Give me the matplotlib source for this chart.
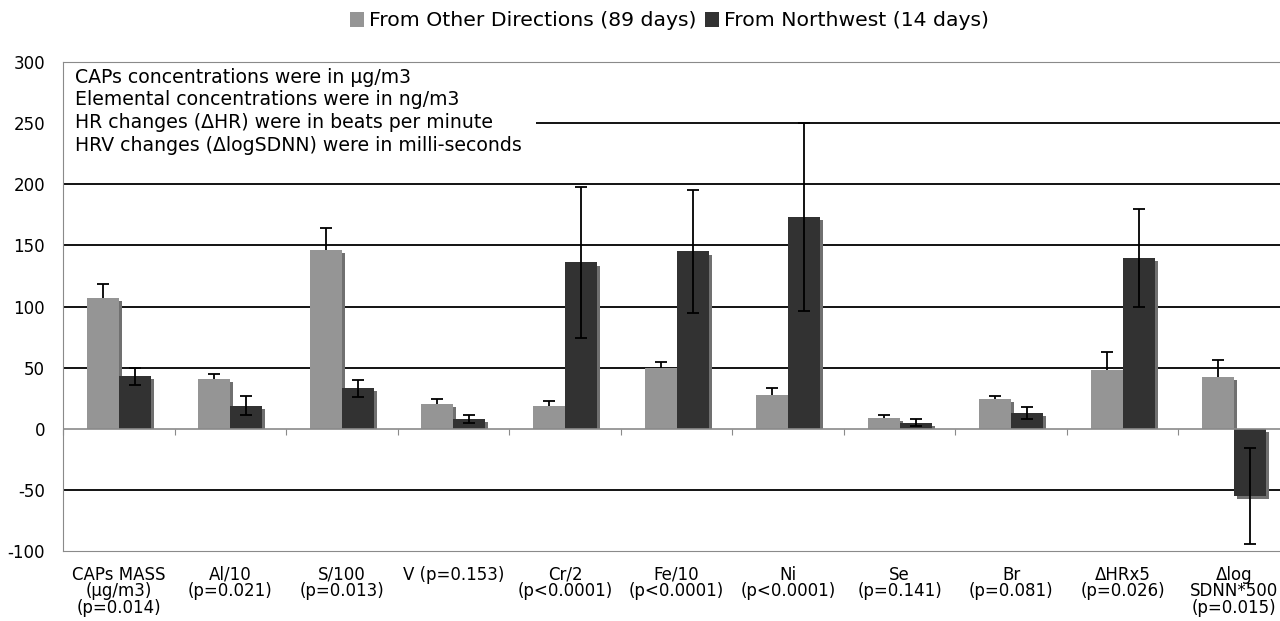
import matplotlib.pyplot as plt
from matplotlib.patches import Patch
import numpy as np

plt.rcParams['axes.unicode_minus'] = False

# values
categories = ['CAPs MASS\n(µg/m3)\n(p=0.014)', 'Al/10\n(p=0.021)', 'S/100\n(p=0.013)',
              'V (p=0.153)', 'Cr/2\n(p<0.0001)', 'Fe/10\n(p<0.0001)', 'Ni\n(p<0.0001)',
              'Se\n(p=0.141)', 'Br\n(p=0.081)', 'ΔHRx5\n(p=0.026)', 'Δlog\nSDNN*500\n(p=0.015)']
other_mean = [107, 41, 146, 20, 19, 50, 28, 9, 24, 48, 42]
other_err = [11, 4, 18, 4, 4, 5, 5, 2, 3, 15, 14]
nw_mean = [43, 19, 33, 8, 136, 145, 173, 5, 13, 140, -55]
nw_err = [7, 8, 7, 3, 62, 50, 77, 3, 5, 40, 39]

legend_labels = ['From Other Directions (89 days)', 'From Northwest (14 days)']
note_lines = ['CAPs concentrations were in µg/m3',
              'Elemental concentrations were in ng/m3',
              'HR changes (ΔHR) were in beats per minute',
              'HRV changes (ΔlogSDNN) were in milli-seconds']

light = '#959595'
dark = '#323232'
shade = '#707070'
edge = '#8a8a8a'

fig = plt.figure(figsize=(12.8, 6.21), dpi=100)
ax = fig.add_axes([63 / 1280, 1 - 551 / 621, 1 - 63 / 1280, (551 - 62) / 621])

x = np.arange(len(categories))
w = 0.287
dx, dy = 0.027, 2.5   # drop shadow offset (about 3 px)


def shadowed_bars(xpos, vals, color):
    vals = np.asarray(vals, dtype=float)
    base = np.where(vals < 0, -dy, 0)
    top = vals - dy
    ax.bar(xpos + dx, top - base, w, bottom=base, color=shade, zorder=2.8)
    return ax.bar(xpos, vals, w, color=color, zorder=3)


b1 = shadowed_bars(x - w / 2, other_mean, light)
b2 = shadowed_bars(x + w / 2, nw_mean, dark)

eb1 = ax.errorbar(x - w / 2, other_mean, yerr=[np.zeros(len(other_err)), other_err], fmt='none',
                  ecolor='black', elinewidth=1.3, capsize=4.5, capthick=1.3, zorder=4)
eb1[1][0].set_visible(False)
ax.errorbar(x + w / 2, nw_mean, yerr=nw_err, fmt='none',
            ecolor='black', elinewidth=1.3, capsize=4.5, capthick=1.3, zorder=4)

ax.set_ylim(-100, 300)
ax.set_xlim(-0.5, 10.41)
ax.set_yticks(np.arange(-100, 301, 50))
ax.tick_params(axis='y', length=0, labelsize=12, pad=13)
ax.set_xticks(x)
ax.set_xticklabels(categories, fontsize=12, linespacing=0.89, va='top')
ax.tick_params(axis='x', length=0, pad=10.5)

for yv in [-50, 50, 100, 150, 200, 250]:
    ax.axhline(yv, color='black', lw=1.3, zorder=1)
ax.axhline(0, color=edge, lw=1.2, zorder=3.5)

# tick marks on the zero line at category boundaries
zero_axis = ax.secondary_xaxis(0.25)
zero_axis.set_xticks(np.arange(-0.5, len(categories), 1))
zero_axis.tick_params(axis='x', direction='out', length=4, color=edge, labelbottom=False)
zero_axis.spines['bottom'].set_visible(False)

for s in ['left', 'bottom', 'top']:
    ax.spines[s].set_color(edge)
    ax.spines[s].set_zorder(6)
ax.spines['right'].set_visible(False)

ax.text(0.0099, 0.988, '\n'.join(note_lines), transform=ax.transAxes, fontsize=13.6,
        va='top', ha='left', linespacing=1.24, zorder=5,
        bbox=dict(facecolor='white', edgecolor='none', pad=10))

handles = [Patch(facecolor=light), Patch(facecolor=dark)]
fig.legend(handles=handles, labels=legend_labels, loc='center', bbox_to_anchor=(0.523, 1 - 21 / 621),
           ncol=2, frameon=False, fontsize=14.7, handlelength=0.7, handleheight=0.7,
           handletextpad=0.25, columnspacing=0.4)

fig.savefig('out.png', dpi=100)
